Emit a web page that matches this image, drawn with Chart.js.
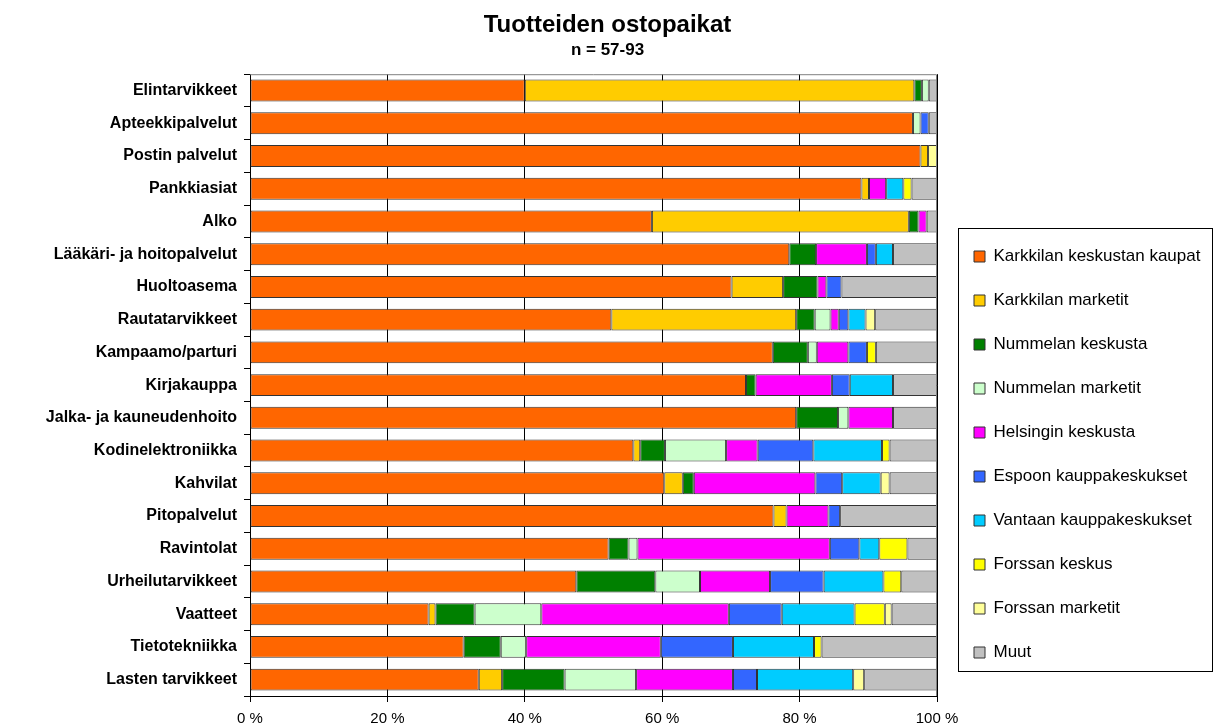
<!DOCTYPE html>
<html>
<head>
<meta charset="utf-8">
<script src="https://cdn.jsdelivr.net/npm/chart.js@4/dist/chart.umd.min.js"></script>
<style>
  body { margin: 0; background: #fff; }
  #wrap { width: 1215px; height: 727px; }
</style>
</head>
<body>
<div id="wrap"><canvas id="myChart" width="1215" height="727"></canvas></div>
<script>
// categories (top to bottom)
const categories = [
  "Elintarvikkeet", "Apteekkipalvelut", "Postin palvelut", "Pankkiasiat", "Alko",
  "Lääkäri- ja hoitopalvelut", "Huoltoasema", "Rautatarvikkeet", "Kampaamo/parturi",
  "Kirjakauppa", "Jalka- ja kauneudenhoito", "Kodinelektroniikka", "Kahvilat",
  "Pitopalvelut", "Ravintolat", "Urheilutarvikkeet", "Vaatteet", "Tietotekniikka",
  "Lasten tarvikkeet"
];

// shares in %, one value per category
const karkkilanKeskustanKaupat = [40, 96.5, 97.6, 89.0, 58.5, 78.5, 70.1, 52.6, 76.1, 72.2, 79.5, 55.8, 60.3, 76.2, 52.2, 47.5, 26.0, 31.1, 33.3];
const karkkilanMarketit = [56.7, 0, 1.1, 1.1, 37.4, 0, 7.5, 26.9, 0, 0, 0, 1.0, 2.7, 1.9, 0, 0, 1.0, 0, 3.4];
const nummelanKeskusta = [1.1, 0, 0, 0, 1.4, 3.9, 5.0, 2.7, 5.1, 1.4, 6.1, 3.6, 1.6, 0, 2.9, 11.5, 5.7, 5.4, 9.1];
const nummelanMarketit = [1.0, 1.1, 0, 0, 0, 0, 0, 2.3, 1.3, 0, 1.5, 8.9, 0, 0, 1.3, 6.5, 9.7, 3.7, 10.4];
const helsinginKeskusta = [0, 0, 0, 2.5, 1.2, 7.4, 1.3, 1.2, 4.6, 11.1, 6.5, 4.6, 17.7, 6.1, 28.0, 10.2, 27.3, 19.6, 14.1];
const espoonKauppakeskukset = [0, 1.2, 0, 0, 0, 1.3, 2.2, 1.4, 2.7, 2.6, 0, 8.1, 3.9, 1.7, 4.3, 7.8, 7.7, 10.5, 3.5];
const vantaanKauppakeskukset = [0, 0, 0, 2.5, 0, 2.5, 0, 2.5, 0, 6.3, 0, 10.0, 5.6, 0, 2.9, 8.7, 10.6, 11.8, 14.0];
const forssanKeskus = [0, 0, 0, 1.2, 0, 0, 0, 0, 1.3, 0, 0, 1.1, 0, 0, 4.1, 2.6, 4.4, 1.1, 0];
const forssanMarketit = [0, 0, 1.3, 0, 0, 0, 0, 1.4, 0, 0, 0, 0, 1.3, 0, 0, 0, 1.0, 0, 1.6];
const muut = [1.2, 1.2, 0, 3.7, 1.5, 6.4, 13.9, 9.0, 8.9, 6.4, 6.4, 6.9, 6.9, 14.1, 4.3, 5.2, 6.6, 16.8, 10.6];

const xTicks = [0, 20, 40, 60, 80, 100];

const fontFamily = "'Liberation Sans', Arial, sans-serif";

let series = [
  ["Karkkilan keskustan kaupat", karkkilanKeskustanKaupat, "#ff6600"],
  ["Karkkilan marketit", karkkilanMarketit, "#ffcc00"],
  ["Nummelan keskusta", nummelanKeskusta, "#008000"],
  ["Nummelan marketit", nummelanMarketit, "#ccffcc"],
  ["Helsingin keskusta", helsinginKeskusta, "#ff00ff"],
  ["Espoon kauppakeskukset", espoonKauppakeskukset, "#3366ff"],
  ["Vantaan kauppakeskukset", vantaanKauppakeskukset, "#00ccff"],
  ["Forssan keskus", forssanKeskus, "#ffff00"],
  ["Forssan marketit", forssanMarketit, "#ffff99"],
  ["Muut", muut, "#c0c0c0"]
];

let datasets = series.map(s => ({
  label: s[0],
  data: s[1].map(v => (v === 0 ? null : v)),
  backgroundColor: s[2],
  borderColor: "#333333",
  borderWidth: 1,
  borderSkipped: false,
  categoryPercentage: 1,
  barPercentage: 0.67
}));

// legend frame + plot border (Excel style)
const frame = {
  id: "frame",
  afterLayout(chart) {
    // titles centred on the whole canvas
    chart.boxes.forEach(b => {
      if (b.position === "top") {
        b.left = 0;
        b.right = chart.width;
      }
    });
    // move the legend column under the framed box
    const lg = chart.legend;
    lg.left = 947;
    lg.right = 1213;
    lg.top = 221;
    lg.bottom = 688;
  },
  afterDraw(chart) {
    const ctx = chart.ctx;
    const a = chart.chartArea;
    ctx.save();
    ctx.strokeStyle = "#808080";
    ctx.lineWidth = 1;
    ctx.beginPath();
    ctx.moveTo(a.left, a.top + 0.5);
    ctx.lineTo(a.right - 0.5, a.top + 0.5);
    ctx.lineTo(a.right - 0.5, a.bottom);
    ctx.stroke();
    ctx.strokeStyle = "#000";
    ctx.strokeRect(958.5, 228.5, 254, 443);
    ctx.restore();
  }
};

let ctx = document.getElementById("myChart").getContext("2d");
let chart = new Chart(ctx, {
  type: "bar",
  data: { labels: categories, datasets: datasets },
  plugins: [frame],
  options: {
    indexAxis: "y",
    responsive: false,
    animation: false,
    layout: { padding: { left: 0, right: 28, top: 0, bottom: 0 } },
    scales: {
      x: {
        stacked: true,
        min: 0,
        max: 100,
        afterBuildTicks: scale => {
          scale.ticks = xTicks.map(v => ({ value: v }));
        },
        afterFit: scale => {
          scale.height = 31;
        },
        ticks: {
          color: "#000",
          font: { family: fontFamily, size: 15 },
          padding: 8,
          maxRotation: 0,
          callback: v => v + " %"
        },
        grid: { color: "#000", lineWidth: 1, tickLength: 6 },
        border: { color: "#000", width: 1 }
      },
      y: {
        stacked: true,
        afterFit: scale => {
          scale.width = 250;
        },
        ticks: {
          color: "#000",
          font: { family: fontFamily, size: 16, weight: "bold" },
          padding: 7,
          autoSkip: false
        },
        grid: { drawOnChartArea: false, color: "#000", tickLength: 6, offset: true },
        border: { color: "#000", width: 1 }
      }
    },
    plugins: {
      title: {
        display: true,
        text: "Tuotteiden ostopaikat",
        color: "#000",
        font: { family: fontFamily, size: 24, weight: "bold" },
        padding: { top: 11, bottom: 0 }
      },
      subtitle: {
        display: true,
        text: "n = 57-93",
        color: "#000",
        font: { family: fontFamily, size: 17, weight: "bold" },
        padding: { top: 0, bottom: 14 }
      },
      legend: {
        position: "right",
        maxWidth: 250,
        labels: {
          color: "#000",
          font: { family: fontFamily, size: 17 },
          boxWidth: 11,
          boxHeight: 11,
          padding: 27
        }
      },
      tooltip: { enabled: false }
    }
  }
});
</script>
</body>
</html>
